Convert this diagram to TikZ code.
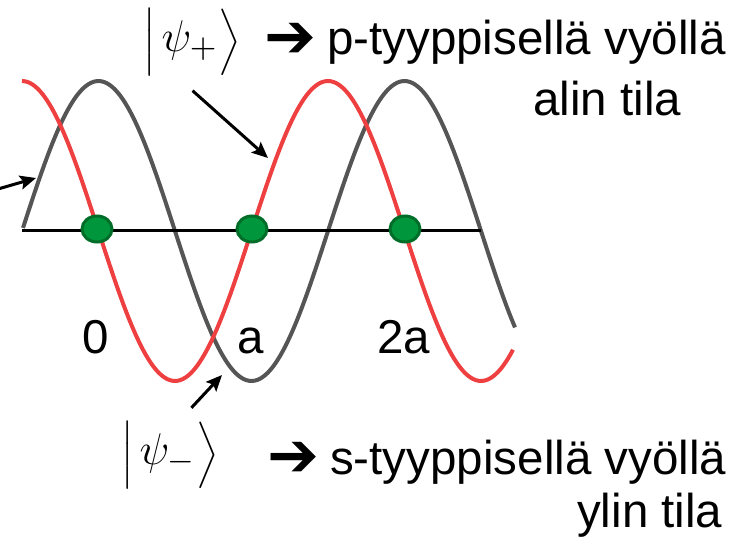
\documentclass[tikz,border=0pt]{standalone}
\usepackage{fontspec}
\setmainfont{Liberation Sans}
\newfontfamily\dingfont{DejaVu Sans}
\usetikzlibrary{arrows.meta, shapes.geometric}

\definecolor{wavered}{RGB}{238,64,64}
\definecolor{wavegray}{RGB}{85,85,85}
\definecolor{sitegreen}{RGB}{0,150,60}
\definecolor{siteedge}{RGB}{0,110,40}

\newcommand{\bigpsi}[1]{\mbox{\fontsize{12.5}{14}\selectfont$\psi_{#1}$}}

\begin{document}
\begin{tikzpicture}[x=1pt, y=-1pt,
    wave/.style={line width=4pt, smooth, samples=160},
    site/.style={ellipse, draw=siteedge, fill=sitegreen, line width=3pt,
      minimum width=30pt, minimum height=26pt, inner sep=0pt},
    pointer/.style={line width=3pt, -{Stealth[length=16pt, width=14pt, inset=3pt]}},
    txt/.style={font=\fontsize{47.5}{52}\selectfont, inner sep=0pt},
    dingbat/.style={font=\dingfont\fontsize{62}{70}\selectfont, inner sep=0pt},
    ket/.style={scale=3.7, inner sep=0pt}]
\useasboundingbox (0,0) rectangle (743,537);

% psi- (gray)
\draw[wave, wavegray] plot[domain=23:515] (\x, {231-150*cos((\x-98.5)/306*360)});
% psi+ (red)
\draw[wave, wavered] plot[domain=22:513] (\x, {231-150*cos((\x-22)/306*360)});

% chain
\coordinate (axisL) at (22,230);
\coordinate (axisR) at (481,230);
\draw[line width=3pt] (axisL) -- (axisR);

% lattice sites
\foreach \i/\xx/\lab in {0/97/0, 1/252/a, 2/405/2a} {
  \node[site] (site\i) at (\xx,229) {};
  \node[txt, anchor=base] (lab\i) at (\xx-1,353) {\lab};
}

% kets
\node[ket] (ketp) at (192,42) {$\Big|\,\bigpsi{+}\Big\rangle$};
\node[ket] (ketm) at (170,455) {$\Big|\,\bigpsi{-}\Big\rangle$};

% pointers
\coordinate (redhit) at (268,158);
\draw[pointer, shorten <=22pt] (ketp.-115) -- (redhit);
\coordinate (grayhit) at (222,375);
\draw[pointer, shorten <=18pt] (ketm.75) -- (grayhit);
\coordinate (edge) at (-2,189);
\coordinate (grayleft) at (36,178);
\draw[pointer] (edge) -- (grayleft);

% band texts
\node[dingbat] (parrow) at (290,40) {➔};
\node[txt, anchor=base west] (pline) at (327,55) {p-tyyppisellä vyöllä};
\node[txt, anchor=base west] (pline2) at (533,116) {alin tila};
\node[dingbat] (sarrow) at (293,459) {➔};
\node[txt, anchor=base west] (sline) at (330,474) {s-tyyppisellä vyöllä};
\node[txt, anchor=base west] (sline2) at (577,527) {ylin tila};
\end{tikzpicture}
\end{document}
